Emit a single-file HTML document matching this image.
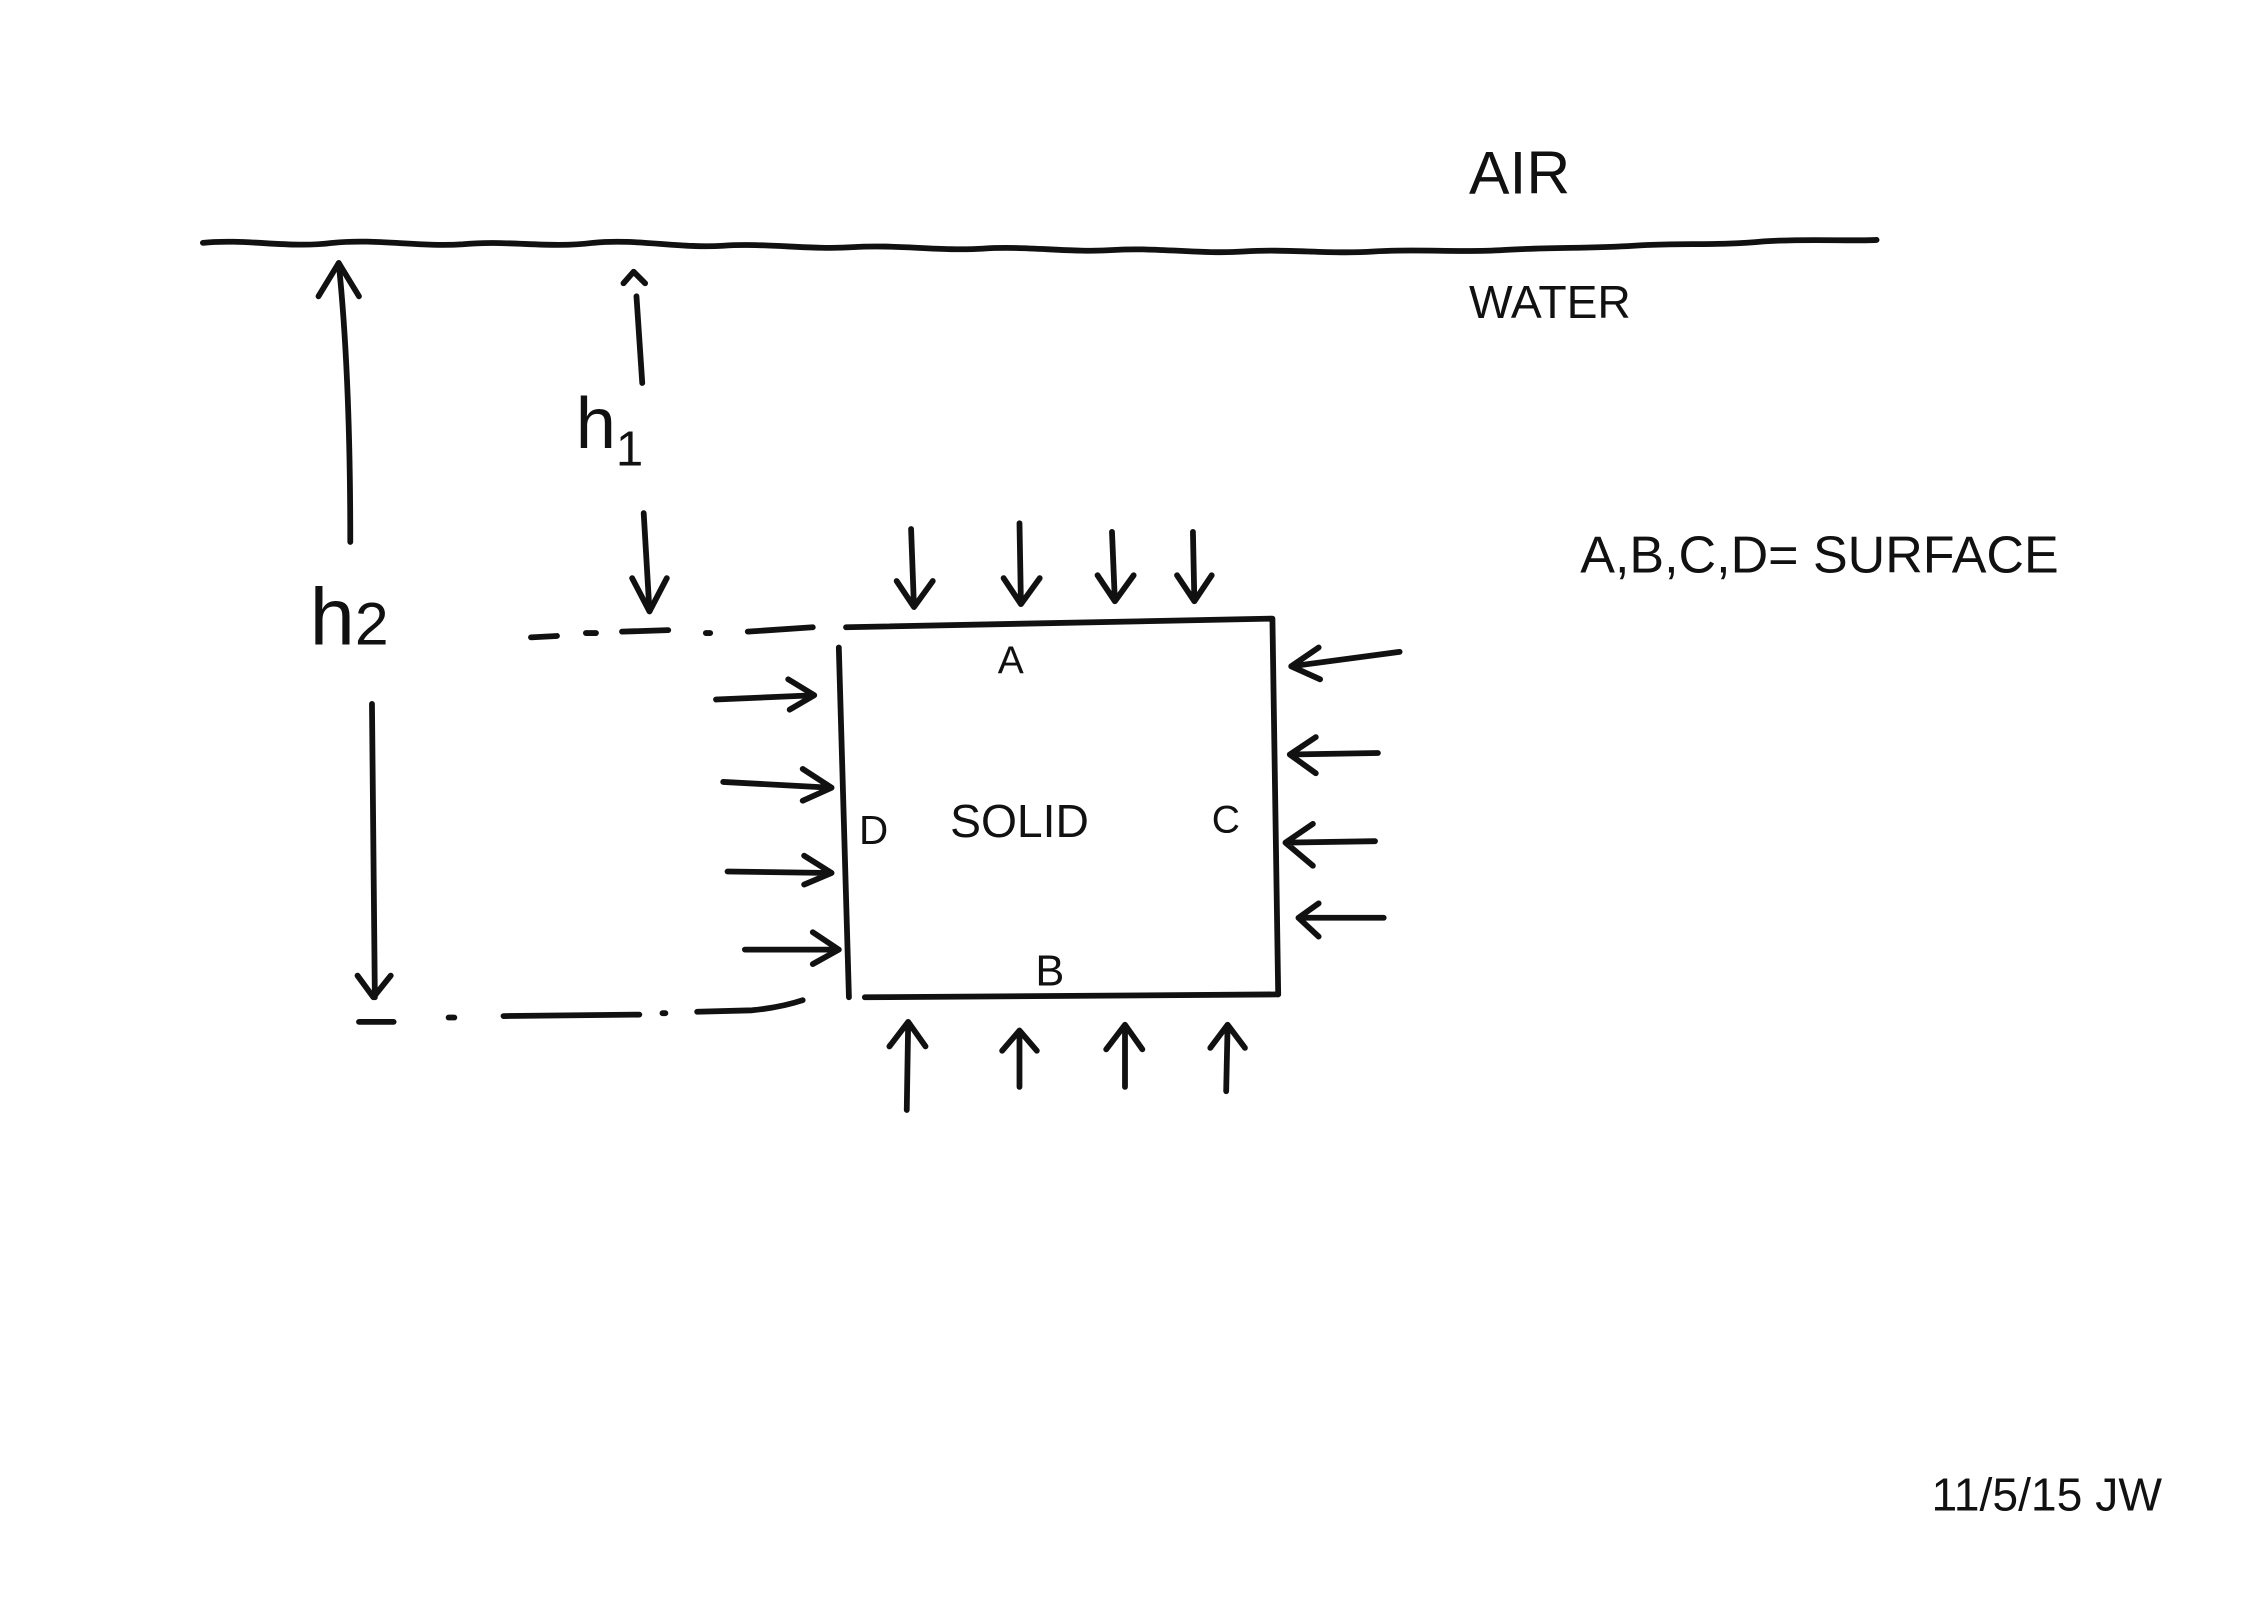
<!DOCTYPE html>
<html><head><style>
html,body{margin:0;padding:0;background:#fff;}
svg{display:block;}
text{font-family:"Liberation Sans",sans-serif;fill:#111;}
</style></head><body>
<svg width="2263" height="1600" viewBox="0 0 1565 1107" xmlns="http://www.w3.org/2000/svg">
<g fill="none" stroke="#111" stroke-width="4" stroke-linecap="round" stroke-linejoin="round">
<!-- water line -->
<path d="M140 168 C170 165 200 172 230 168 C260 165 290 171 320 169 C350 166 380 172 410 168 C440 165 470 172 500 170 C530 168 560 173 590 171 C620 169 650 174 680 172 C710 170 740 175 770 173 C800 171 830 176 860 174 C890 172 920 176 950 174 C980 172 1010 175 1040 173 C1070 171 1100 172 1130 170 C1160 168 1190 170 1220 167 C1250 165 1280 167 1298 166"/>
<!-- h2 arrow -->
<path d="M242 375 Q242 260 234 182"/>
<path d="M220 205 L234 182 L248 205"/>
<path d="M257 487 L259 690"/>
<path d="M247 675 L258 690 L270 675"/>
<!-- h1 arrow -->
<path d="M440 205 L444 265"/>
<path d="M431 196 L438 188 L446 196"/>
<path d="M445 355 L449 423"/>
<path d="M437 400 L449 423 L461 400"/>
<!-- dashed lines -->
<path d="M367 441 L385 440 M405 438 L412 438 M430 437 L462 436 M488 438 L491 438 M517 437 L562 434"/>
<path d="M248 707 L272 707 M310 704 L314 704 M348 703 L442 702 M458 701 L460 701 M482 700 L520 699 Q540 697 555 692"/>
<!-- box -->
<path d="M585 434 L880 428 L884 688"/>
<path d="M580 448 L587 690"/>
<path d="M598 690 L884 688"/>
<!-- top arrows -->
<path d="M630 366 L632 420 M620 402 L632 420 L645 402"/>
<path d="M705 362 L706 418 M694 400 L706 418 L719 400"/>
<path d="M769 368 L771 416 M759 398 L771 416 L784 398"/>
<path d="M825 368 L826 416 M814 398 L826 416 L838 398"/>
<!-- bottom arrows -->
<path d="M627 768 L628 707 M615 724 L628 707 L640 724"/>
<path d="M705 752 L705 713 M693 727 L705 713 L717 727"/>
<path d="M778 752 L778 709 M765 726 L778 709 L790 726"/>
<path d="M848 755 L849 709 M837 725 L849 709 L861 725"/>
<!-- left arrows -->
<path d="M495 484 L563 481 M545 470 L563 481 L546 491"/>
<path d="M500 541 L575 545 M555 532 L575 545 L555 554"/>
<path d="M503 603 L575 604 M556 592 L575 604 L556 612"/>
<path d="M515 657 L580 657 M562 645 L580 657 L562 667"/>
<!-- right arrows -->
<path d="M968 451 L893 461 M912 448 L893 461 L913 470"/>
<path d="M953 521 L892 522 M910 510 L892 522 L910 535"/>
<path d="M951 582 L889 583 M908 570 L889 583 L908 599"/>
<path d="M957 635 L898 635 M912 625 L898 635 L912 648"/>
</g>
<text x="1016" y="134" font-size="42">AIR</text>
<text x="1016" y="220" font-size="32">WATER</text>
<text x="214" y="446" font-size="56">h<tspan font-size="42">2</tspan></text>
<text x="398" y="310" font-size="50">h<tspan font-size="34" dy="12">1</tspan></text>
<text x="690" y="466" font-size="27">A</text>
<text x="594" y="584" font-size="28">D</text>
<text x="657" y="579" font-size="32">SOLID</text>
<text x="838" y="576" font-size="27">C</text>
<text x="716" y="682" font-size="30">B</text>
<text x="1093" y="396" font-size="36">A,B,C,D= SURFACE</text>
<text x="1336" y="1045" font-size="32">11/5/15 JW</text>
</svg>
</body></html>
